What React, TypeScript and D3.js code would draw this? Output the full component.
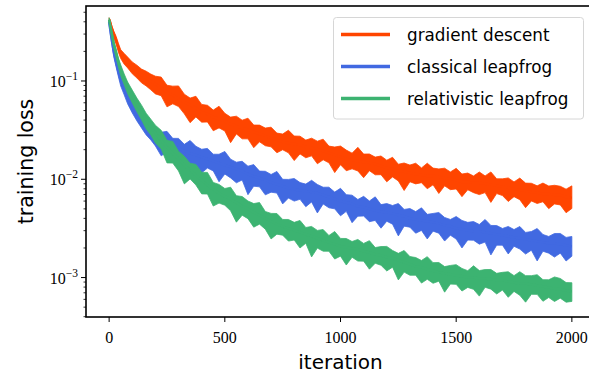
import { useEffect, useRef } from 'react'
import * as d3 from 'd3'

const iterations = [0, 5, 10, 20, 30, 40, 50, 65, 80, 100, 120, 140, 160, 180].concat(d3.range(200, 2001, 25))

// band centre
const gdLoss = [
  0.42, 0.39, 0.35, 0.30, 0.26, 0.22, 0.19, 0.17, 0.156, 0.139, 0.126, 0.115, 0.107, 0.100,
  0.093, 0.085, 0.077, 0.072, 0.066, 0.061, 0.057, 0.053, 0.048, 0.046,
  0.043, 0.041, 0.039, 0.0365, 0.0348, 0.0332, 0.0317, 0.0303, 0.0289, 0.0276,
  0.0263, 0.0251, 0.0240, 0.0234, 0.0229, 0.0223, 0.0213, 0.0208, 0.0203, 0.0194,
  0.0185, 0.0177, 0.0169, 0.0161, 0.0157, 0.0153, 0.0150, 0.0147, 0.0143, 0.0137,
  0.0130, 0.0127, 0.0121, 0.0119, 0.0116, 0.0113, 0.0111, 0.0108, 0.0108, 0.0106,
  0.0103, 0.0101, 0.0098, 0.0094, 0.0094, 0.0092, 0.0092, 0.0090, 0.0088, 0.0086,
  0.0084, 0.0082, 0.0080, 0.0078, 0.0076, 0.0074, 0.0073, 0.0071, 0.0071, 0.0069,
  0.0069, 0.0066, 0.0065,
]
const clLoss = [
  0.40, 0.331, 0.275, 0.198, 0.156, 0.124, 0.102, 0.0829, 0.0687, 0.0556, 0.0472, 0.0400, 0.0348, 0.0309,
  0.0281, 0.0256, 0.0233, 0.0217, 0.0207, 0.0193, 0.0184, 0.0176, 0.0168, 0.0160,
  0.0153, 0.0146, 0.0139, 0.0133, 0.0127, 0.0121, 0.0113, 0.0107, 0.0103, 0.0098,
  0.0093, 0.0089, 0.0085, 0.0081, 0.0079, 0.0077, 0.0076, 0.0074, 0.0072, 0.0069,
  0.0066, 0.0063, 0.0060, 0.0058, 0.0056, 0.0053, 0.0052, 0.0050, 0.0048, 0.0047,
  0.0046, 0.0045, 0.0043, 0.0042, 0.0040, 0.0039, 0.0038, 0.00374, 0.00365, 0.00356,
  0.00340, 0.00332, 0.00317, 0.00310, 0.00303, 0.00295, 0.00295, 0.00289, 0.00282, 0.00275,
  0.00269, 0.00263, 0.00256, 0.00251, 0.00245, 0.00239, 0.00234, 0.00228, 0.00223, 0.00223,
  0.00218, 0.00213, 0.00208,
]
const rlLoss = [
  0.42, 0.364, 0.316, 0.239, 0.193, 0.156, 0.130, 0.105, 0.0869, 0.0703, 0.0583, 0.0483, 0.0400, 0.0348,
  0.0295, 0.0250, 0.0212, 0.0184, 0.0160, 0.0139, 0.0124, 0.0110, 0.0098, 0.0087,
  0.0079, 0.0072, 0.0067, 0.0063, 0.0058, 0.0053, 0.0050, 0.0046, 0.0043, 0.0040,
  0.00374, 0.00348, 0.00332, 0.00317, 0.00303, 0.00289, 0.00275, 0.00263, 0.00251, 0.00239,
  0.00228, 0.00218, 0.00208, 0.00203, 0.00198, 0.00194, 0.00185, 0.00180, 0.00172, 0.00168,
  0.00161, 0.00157, 0.00150, 0.00143, 0.00136, 0.00130, 0.00127, 0.00121, 0.00118, 0.00113,
  0.00110, 0.00108, 0.00105, 0.00103, 0.00100, 0.00100, 0.00098, 0.00098, 0.00096, 0.00094,
  0.00094, 0.00091, 0.00089, 0.00087, 0.00087, 0.00085, 0.00083, 0.00081, 0.00079, 0.00077,
  0.00076, 0.00074, 0.00072,
]

// noise above / below the centre, in decades
const gdUp = [
  0.02, 0.03, 0.03, 0.03, 0.04, 0.04, 0.04, 0.05, 0.05, 0.05, 0.06, 0.06, 0.07, 0.07,
  0.08, 0.11, 0.07, 0.09, 0.13, 0.08, 0.07, 0.12, 0.08, 0.09,
  0.07, 0.13, 0.08, 0.07, 0.10, 0.08, 0.12, 0.07, 0.09, 0.08,
  0.11, 0.07, 0.08, 0.13, 0.08, 0.09, 0.07, 0.10, 0.08, 0.12,
  0.07, 0.08, 0.11, 0.09, 0.07, 0.14, 0.08, 0.09, 0.07, 0.10,
  0.08, 0.12, 0.07, 0.09, 0.08, 0.11, 0.07, 0.13, 0.08, 0.08,
  0.10, 0.07, 0.12, 0.08, 0.09, 0.07, 0.11, 0.08, 0.13, 0.07,
  0.08, 0.10, 0.07, 0.12, 0.08, 0.09, 0.07, 0.11, 0.08, 0.10,
  0.09, 0.08, 0.12,
]
const gdDown = [
  0.03, 0.03, 0.04, 0.04, 0.04, 0.05, 0.05, 0.06, 0.06, 0.07, 0.07, 0.08, 0.08, 0.09,
  0.10, 0.08, 0.15, 0.09, 0.08, 0.12, 0.18, 0.09, 0.10, 0.08,
  0.14, 0.09, 0.10, 0.19, 0.08, 0.11, 0.09, 0.16, 0.08, 0.10,
  0.09, 0.13, 0.08, 0.10, 0.17, 0.09, 0.11, 0.08, 0.15, 0.09,
  0.10, 0.18, 0.08, 0.12, 0.09, 0.10, 0.16, 0.08, 0.11, 0.09,
  0.14, 0.08, 0.10, 0.19, 0.09, 0.10, 0.08, 0.13, 0.09, 0.17,
  0.08, 0.11, 0.09, 0.15, 0.08, 0.10, 0.12, 0.09, 0.18, 0.08,
  0.09, 0.14, 0.08, 0.10, 0.17, 0.09, 0.11, 0.08, 0.15, 0.09,
  0.10, 0.16, 0.11,
]
const clUp = [
  0.02, 0.03, 0.03, 0.03, 0.04, 0.04, 0.05, 0.05, 0.05, 0.06, 0.06, 0.07, 0.07, 0.08,
  0.09, 0.07, 0.12, 0.08, 0.10, 0.07, 0.13, 0.09, 0.08, 0.11,
  0.07, 0.09, 0.14, 0.08, 0.07, 0.10, 0.08, 0.12, 0.07, 0.09,
  0.08, 0.13, 0.07, 0.09, 0.11, 0.08, 0.07, 0.12, 0.09, 0.08,
  0.10, 0.07, 0.13, 0.08, 0.09, 0.07, 0.11, 0.08, 0.14, 0.07,
  0.09, 0.08, 0.12, 0.07, 0.10, 0.08, 0.13, 0.07, 0.09, 0.11,
  0.08, 0.07, 0.12, 0.09, 0.08, 0.10, 0.07, 0.13, 0.08, 0.09,
  0.07, 0.10, 0.08, 0.12, 0.07, 0.09, 0.13, 0.08, 0.07, 0.10,
  0.11, 0.08, 0.10,
]
const clDown = [
  0.03, 0.04, 0.04, 0.05, 0.05, 0.05, 0.06, 0.06, 0.07, 0.07, 0.08, 0.08, 0.09, 0.09,
  0.11, 0.17, 0.09, 0.10, 0.20, 0.09, 0.12, 0.10, 0.16, 0.09,
  0.10, 0.19, 0.09, 0.11, 0.14, 0.09, 0.21, 0.10, 0.09, 0.15,
  0.10, 0.09, 0.18, 0.10, 0.12, 0.09, 0.16, 0.10, 0.20, 0.09,
  0.11, 0.10, 0.15, 0.09, 0.19, 0.10, 0.09, 0.13, 0.10, 0.17,
  0.09, 0.11, 0.21, 0.10, 0.09, 0.14, 0.10, 0.18, 0.09, 0.10,
  0.16, 0.09, 0.11, 0.19, 0.10, 0.09, 0.13, 0.10, 0.22, 0.11,
  0.10, 0.18, 0.09, 0.11, 0.15, 0.10, 0.20, 0.09, 0.10, 0.14,
  0.09, 0.16, 0.10,
]
const rlUp = [
  0.02, 0.03, 0.03, 0.03, 0.04, 0.04, 0.05, 0.05, 0.05, 0.06, 0.06, 0.07, 0.07, 0.07,
  0.08, 0.10, 0.07, 0.12, 0.08, 0.09, 0.07, 0.11, 0.08, 0.13,
  0.07, 0.09, 0.08, 0.12, 0.07, 0.10, 0.08, 0.09, 0.13, 0.07,
  0.08, 0.11, 0.07, 0.09, 0.08, 0.12, 0.07, 0.10, 0.08, 0.11,
  0.07, 0.13, 0.08, 0.09, 0.07, 0.10, 0.08, 0.12, 0.07, 0.09,
  0.11, 0.08, 0.07, 0.12, 0.08, 0.09, 0.07, 0.13, 0.08, 0.10,
  0.07, 0.09, 0.11, 0.08, 0.07, 0.12, 0.08, 0.09, 0.10, 0.07,
  0.08, 0.10, 0.07, 0.12, 0.08, 0.09, 0.11, 0.07, 0.08, 0.12,
  0.11, 0.08, 0.09,
]
const rlDown = [
  0.03, 0.03, 0.04, 0.04, 0.05, 0.05, 0.06, 0.06, 0.07, 0.07, 0.08, 0.08, 0.09, 0.09,
  0.10, 0.09, 0.16, 0.10, 0.12, 0.19, 0.09, 0.10, 0.14, 0.09,
  0.17, 0.10, 0.09, 0.12, 0.20, 0.09, 0.10, 0.15, 0.09, 0.11,
  0.18, 0.10, 0.09, 0.13, 0.10, 0.16, 0.09, 0.21, 0.10, 0.11,
  0.09, 0.15, 0.10, 0.18, 0.09, 0.12, 0.10, 0.17, 0.09, 0.10,
  0.14, 0.09, 0.20, 0.10, 0.11, 0.09, 0.16, 0.10, 0.13, 0.09,
  0.19, 0.10, 0.09, 0.15, 0.10, 0.12, 0.18, 0.09, 0.10, 0.14,
  0.10, 0.16, 0.09, 0.12, 0.19, 0.10, 0.09, 0.15, 0.10, 0.13,
  0.09, 0.12, 0.10,
]

const labels = ['gradient descent', 'classical leapfrog', 'relativistic leapfrog']
const colors = ['#ff4500', '#4169e1', '#3cb371']
const xTicks = [0, 500, 1000, 1500, 2000]
const yMajor = [1e-3, 1e-2, 1e-1]

const W = 589
const H = 375

export default function App() {
  const svgRef = useRef<SVGSVGElement>(null)

  useEffect(() => {
    if (!svgRef.current) return
    const svg = d3.select(svgRef.current)
    svg.selectAll('*').remove()

    const left = 86, right = 595, top = 6, bottom = 317
    const x = d3.scaleLinear().domain([-100, 2100]).range([left, right])
    const y = d3.scaleLog().domain([0.000397, 0.579]).range([bottom, top])

    svg.append('defs').append('clipPath').attr('id', 'plotArea')
      .append('rect').attr('x', left).attr('y', top).attr('width', right - left).attr('height', bottom - top)

    const plot = svg.append('g').attr('clip-path', 'url(#plotArea)')

    const series = [
      { loss: gdLoss, up: gdUp, down: gdDown },
      { loss: clLoss, up: clUp, down: clDown },
      { loss: rlLoss, up: rlUp, down: rlDown },
    ]

    series.forEach((s, k) => {
      const pts = iterations.map((it, i) => ({
        it,
        c: s.loss[i],
        hi: s.loss[i] * Math.pow(10, s.up[i]),
        lo: s.loss[i] / Math.pow(10, s.down[i]),
      }))
      const area = d3.area<typeof pts[0]>()
        .x(d => x(d.it))
        .y0(d => y(d.lo))
        .y1(d => y(d.hi))
      plot.append('path')
        .attr('d', area(pts))
        .attr('fill', colors[k])
        .attr('stroke', colors[k])
        .attr('stroke-width', 0.8)
        .attr('stroke-linejoin', 'round')
      const line = d3.line<typeof pts[0]>().x(d => x(d.it)).y(d => y(d.c))
      plot.append('path')
        .attr('d', line(pts))
        .attr('fill', 'none')
        .attr('stroke', colors[k])
        .attr('stroke-width', 2.5)
    })

    // y ticks: majors and log minors
    const minors: number[] = []
    ;[1e-4, 1e-3, 1e-2, 1e-1].forEach(dec => {
      for (let m = 2; m <= 9; m++) {
        const v = dec * m
        if (v >= 0.000397 && v <= 0.579) minors.push(v)
      }
    })
    const axes = svg.append('g').attr('stroke', '#000')
    minors.forEach(v => {
      axes.append('line').attr('x1', left - 2.5).attr('x2', left).attr('y1', y(v)).attr('y2', y(v)).attr('stroke-width', 0.8)
    })
    yMajor.forEach(v => {
      axes.append('line').attr('x1', left - 5).attr('x2', left).attr('y1', y(v)).attr('y2', y(v)).attr('stroke-width', 1)
    })
    xTicks.forEach(v => {
      axes.append('line').attr('x1', x(v)).attr('x2', x(v)).attr('y1', bottom).attr('y2', bottom + 5).attr('stroke-width', 1)
    })

    const serif = '"Liberation Serif", "DejaVu Serif", serif'
    yMajor.forEach(v => {
      const t = svg.append('text')
        .attr('x', 78)
        .attr('y', y(v) + 6)
        .attr('text-anchor', 'end')
        .attr('font-family', serif)
        .attr('font-size', 16)
      t.append('tspan').text('10')
      t.append('tspan').attr('dy', -7).attr('font-size', 11.5).text('\u2212' + Math.round(-Math.log10(v)))
    })
    xTicks.forEach(v => {
      svg.append('text')
        .attr('x', x(v))
        .attr('y', 343)
        .attr('text-anchor', 'middle')
        .attr('font-family', serif)
        .attr('font-size', 16)
        .text(String(v))
    })

    // spines
    svg.append('rect')
      .attr('x', left).attr('y', top)
      .attr('width', right - left).attr('height', bottom - top)
      .attr('fill', 'none').attr('stroke', '#000').attr('stroke-width', 1.6)

    const sans = '"DejaVu Sans", sans-serif'
    svg.append('text')
      .attr('x', (left + right) / 2)
      .attr('y', 369)
      .attr('text-anchor', 'middle')
      .attr('font-family', sans)
      .attr('font-size', 20)
      .text('iteration')
    svg.append('text')
      .attr('transform', `translate(33, ${(top + bottom) / 2}) rotate(-90)`)
      .attr('text-anchor', 'middle')
      .attr('font-family', sans)
      .attr('font-size', 20.5)
      .text('training loss')

    // legend
    const lg = svg.append('g')
    lg.append('rect')
      .attr('x', 333.5).attr('y', 17.5).attr('width', 250).attr('height', 101.5)
      .attr('rx', 3).attr('fill', '#fff').attr('fill-opacity', 0.8)
      .attr('stroke', '#d6d6d6').attr('stroke-width', 1)
    const rowY = [34.5, 66.5, 98.5]
    labels.forEach((name, i) => {
      lg.append('line')
        .attr('x1', 341).attr('x2', 390).attr('y1', rowY[i]).attr('y2', rowY[i])
        .attr('stroke', colors[i]).attr('stroke-width', 3.5)
      lg.append('text')
        .attr('x', 407).attr('y', rowY[i] + 6)
        .attr('font-family', sans).attr('font-size', 16.8)
        .text(name)
    })
  }, [])

  return <svg ref={svgRef} width={W} height={H} style={{ position: 'absolute', left: 0, top: 0, background: '#fff' }} />
}
